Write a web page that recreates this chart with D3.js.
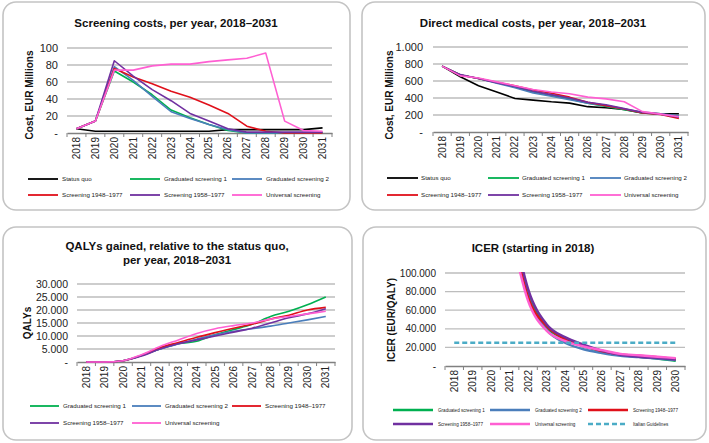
<!DOCTYPE html>
<html><head><meta charset="utf-8">
<script src="https://cdn.jsdelivr.net/npm/d3@7"></script>
<style>body{margin:0;background:#fff}svg{display:block;font-family:"Liberation Sans",Arial,sans-serif}</style>
</head><body><svg id="c" width="709" height="443"></svg>
<script>
// ---------- DATA ----------
const years = ["2018","2019","2020","2021","2022","2023","2024","2025","2026","2027","2028","2029","2030","2031"];
const icerYears = years.slice(0, 13);
const seriesNames = ["Status quo","Graduated screening 1","Graduated screening 2","Screening 1948–1977","Screening 1958–1977","Universal screening"];
const seriesColors = ["#000000","#00b050","#4a7ebb","#e0101a","#7030a0","#ff5fd2"];

// Screening costs (EUR millions)
const scrStatusQuo = [5,2,2,2,2,2,2,2,4,4,4,4,4,6];
const scrGrad1     = [5,14,73,60,45,27,18,10,3,0,0,0,0,0];
const scrGrad2     = [5,14,78,62,43,25,17,10,4,0,0,0,0,0];
const scr4877      = [5,14,76,66,58,49,42,33,23,8,2,0,0,0];
const scr5877      = [5,14,85,67,51,38,23,14,5,1,1,1,1,1];
const scrUniversal = [5,14,74,74,79,81,81,84,86,88,94,14,3,2];
const scrTicks = [0,20,40,60,80,100];
const scrTickLabels = ["-","20","40","60","80","100"];

// Direct medical costs (EUR millions)
const dmcStatusQuo = [775,650,545,470,395,375,355,340,298,285,265,225,215,215];
const dmcGrad1     = [775,670,630,580,530,470,430,390,340,300,262,225,210,180];
const dmcGrad2     = [775,670,630,575,520,460,420,380,340,310,270,235,215,190];
const dmc4877      = [775,670,630,585,545,495,455,410,350,310,270,225,205,160];
const dmc5877      = [775,675,630,580,535,480,440,400,350,320,275,230,210,175];
const dmcUniversal = [775,660,635,590,545,500,470,450,410,390,355,240,210,180];
const dmcTicks = [0,200,400,600,800,1000];
const dmcTickLabels = ["-","200","400","600","800","1.000"];

// QALYs gained
const qalyGrad1     = [0,0,500,2500,5000,7000,8000,10500,12500,14500,17500,19500,22000,25000];
const qalyGrad2     = [0,0,500,2500,5000,7000,8800,10500,11800,12800,13800,15000,16200,17500];
const qaly4877      = [0,0,500,2600,5500,7500,9500,11300,13000,14500,16500,18000,20000,21000];
const qaly5877      = [0,0,500,2300,5000,7000,8500,10000,11500,13000,15000,17000,18500,20500];
const qalyUniversal = [0,0,500,2800,6000,8500,11000,12800,14000,15000,16500,17500,18500,19500];
const qalyTicks = [0,5000,10000,15000,20000,25000,30000];
const qalyTickLabels = ["-","5.000","10.000","15.000","20.000","25.000","30.000"];

// ICER (EUR/QALY), 2018–2030
const icerGrad1     = [null,null,null,160000,78000,42000,29000,21000,16000,12000,10000,8000,5500];
const icerGrad2     = [null,null,null,155000,75000,39000,25000,18000,14000,11000,9500,8000,6500];
const icer4877      = [null,null,null,158000,74000,43000,29000,22000,16000,12500,11000,9500,7500];
const icer5877      = [null,null,null,170000,83000,45000,31000,23000,16500,12000,10000,8500,7000];
const icerUniversal = [null,null,null,150000,70000,38000,27000,21000,17000,13000,11500,10000,8500];
const italianThreshold = [25000,25000,25000,25000,25000,25000,25000,25000,25000,25000,25000,25000,25000];
const icerTicks = [0,20000,40000,60000,80000,100000];
const icerTickLabels = ["-","20.000","40.000","60.000","80.000","100.000"];

// ---------- DRAWING ----------
const svg = d3.select("#c");
let clipId = 0;

function panel(cfg){
  const g = svg.append("g");
  g.append("rect").attr("x",cfg.box[0]).attr("y",cfg.box[1]).attr("width",cfg.box[2]).attr("height",cfg.box[3])
    .attr("rx",13).attr("fill","#fff").attr("stroke","#c4c4c4").attr("stroke-width",1.6);
  cfg.title.forEach((t,i)=>{
    g.append("text").attr("x",cfg.titleX).attr("y",cfg.titleY + i*14).attr("text-anchor","middle")
      .attr("font-size",11.5).attr("font-weight","bold").attr("fill","#111").text(t);
  });
  const x = d3.scaleBand().domain(cfg.cats).range([cfg.plot[0],cfg.plot[1]]);
  const y = d3.scaleLinear().domain(cfg.domain).range([cfg.plot[3],cfg.plot[2]]);
  // grid
  g.append("g").selectAll("line").data(cfg.ticks.filter(d=>d>0)).join("line")
    .attr("x1",cfg.plot[0]).attr("x2",cfg.plot[1]).attr("y1",d=>y(d)).attr("y2",d=>y(d))
    .attr("stroke","#bdbdbd").attr("stroke-width",1.3);
  // y tick labels
  g.append("g").selectAll("text").data(cfg.ticks).join("text")
    .attr("x",cfg.plot[0]-cfg.labelGap).attr("y",d=>y(d)).attr("dy","0.35em").attr("text-anchor","end")
    .attr("font-size",cfg.tickFont).attr("fill","#222").text((d,i)=>cfg.tickLabels[i]);
  // x axis
  const ax = d3.axisBottom(x).tickSize(0).tickFormat("");
  const axg = g.append("g").attr("transform",`translate(0,${y(0)})`).call(ax);
  axg.select(".domain").attr("stroke","#808080").attr("stroke-width",1.3);
  const bounds = cfg.cats.map(c=>x(c)).concat([x(cfg.cats[cfg.cats.length-1])+x.bandwidth()]);
  g.append("g").selectAll("line").data(bounds).join("line")
    .attr("x1",d=>d).attr("x2",d=>d).attr("y1",y(0)).attr("y2",y(0)+4).attr("stroke","#808080");
  g.append("g").selectAll("text").data(cfg.cats).join("text")
    .attr("transform",d=>`translate(${x(d)+x.bandwidth()/2},${y(0)+4}) rotate(-90)`)
    .attr("dy","0.35em").attr("text-anchor","end").attr("font-size",cfg.yearFont).attr("fill","#222").text(d=>d);
  // y title
  g.append("text").attr("transform",`translate(${cfg.yTitleX},${cfg.yTitleY}) rotate(-90)`)
    .attr("text-anchor","middle").attr("dy","0.35em").attr("font-size",10).attr("font-weight","bold").attr("fill","#111").text(cfg.yTitle);
  // clip
  const id = "clip"+(clipId++);
  svg.append("clipPath").attr("id",id).append("rect")
    .attr("x",cfg.plot[0]).attr("y",cfg.plot[2]-1).attr("width",cfg.plot[1]-cfg.plot[0]).attr("height",cfg.plot[3]-cfg.plot[2]+4);
  const lines = g.append("g").attr("clip-path",`url(#${id})`);
  cfg.series.forEach(s=>{
    const line = d3.line().defined(d=>d!=null).x((d,i)=>x(cfg.cats[i])+x.bandwidth()/2).y(d=>y(d)).curve(cfg.curve);
    lines.append("path").datum(s.values).attr("d",line).attr("fill","none")
      .attr("stroke",s.color).attr("stroke-width",cfg.lineWidth).attr("stroke-dasharray",s.dash||null)
      .attr("stroke-linejoin","round");
  });
  // legend
  cfg.series.forEach((s,i)=>{
    const r = Math.floor(i/3), c = i%3;
    const lx = cfg.legCols[c], ly = cfg.legRows[r];
    g.append("line").attr("x1",lx).attr("x2",lx+cfg.legLen).attr("y1",ly).attr("y2",ly)
      .attr("stroke",s.color).attr("stroke-width",cfg.legWidth).attr("stroke-dasharray",s.dash||null);
    g.append("text").attr("x",lx+cfg.legLen+cfg.legGap).attr("y",ly).attr("dy","0.35em")
      .attr("font-size",cfg.legFont).attr("fill","#222").text(s.name);
  });
}

const mk = (vals, idxs) => vals.map((v,k)=>({name:seriesNames[idxs[k]],color:seriesColors[idxs[k]],values:v}));

panel({
  box:[3,2,347,208], title:["Screening costs, per year, 2018–2031"], titleX:176, titleY:27,
  cats:years, plot:[67,332,48,133], domain:[0,100], ticks:scrTicks, tickLabels:scrTickLabels,
  labelGap:9, tickFont:11, yearFont:10, yTitle:"Cost, EUR Millions", yTitleX:29, yTitleY:95,
  curve:d3.curveLinear, lineWidth:1.6,
  series:mk([scrStatusQuo,scrGrad1,scrGrad2,scr4877,scr5877,scrUniversal],[0,1,2,3,4,5]),
  legRows:[179,195], legCols:[28,130,232], legLen:30, legGap:4, legFont:6.2, legWidth:1.8
});

panel({
  box:[362,2,343,208], title:["Direct medical costs, per year, 2018–2031"], titleX:533, titleY:27,
  cats:years, plot:[433,688,47,132], domain:[0,1000], ticks:dmcTicks, tickLabels:dmcTickLabels,
  labelGap:10, tickFont:11, yearFont:10, yTitle:"Cost, EUR Millions", yTitleX:389, yTitleY:95,
  curve:d3.curveLinear, lineWidth:1.6,
  series:mk([dmcStatusQuo,dmcGrad1,dmcGrad2,dmc4877,dmc5877,dmcUniversal],[0,1,2,3,4,5]),
  legRows:[178,195], legCols:[387,488,590], legLen:31, legGap:3, legFont:6.2, legWidth:1.8
});

panel({
  box:[3,227,349,213], title:["QALYs gained, relative to the status quo,","per year, 2018–2031"], titleX:177, titleY:250,
  cats:years, plot:[77,335,284,362], domain:[0,30000], ticks:qalyTicks, tickLabels:qalyTickLabels,
  labelGap:9, tickFont:10.5, yearFont:10, yTitle:"QALYs", yTitleX:27, yTitleY:323,
  curve:d3.curveMonotoneX, lineWidth:1.6,
  series:mk([qalyGrad1,qalyGrad2,qaly4877,qaly5877,qalyUniversal],[1,2,3,4,5]),
  legRows:[406,423], legCols:[30,132,232], legLen:29, legGap:4, legFont:6.2, legWidth:1.8
});

const icerSeries = mk([icerGrad1,icerGrad2,icer4877,icer5877,icerUniversal],[1,2,3,4,5]);
icerSeries.push({name:"Italian Guidelines",color:"#4bacc6",values:italianThreshold,dash:"5,3"});
panel({
  box:[363,227,343,213], title:["ICER (starting in 2018)"], titleX:533, titleY:252,
  cats:icerYears, plot:[445,685,273,366], domain:[0,100000], ticks:icerTicks, tickLabels:icerTickLabels,
  labelGap:9, tickFont:10, yearFont:10, yTitle:"ICER (EUR/QALY)", yTitleX:391, yTitleY:320,
  curve:d3.curveMonotoneX, lineWidth:2.4,
  series:icerSeries,
  legRows:[410,424], legCols:[393,490,588], legLen:40, legGap:5, legFont:4.6, legWidth:2.4
});
</script></body></html>
